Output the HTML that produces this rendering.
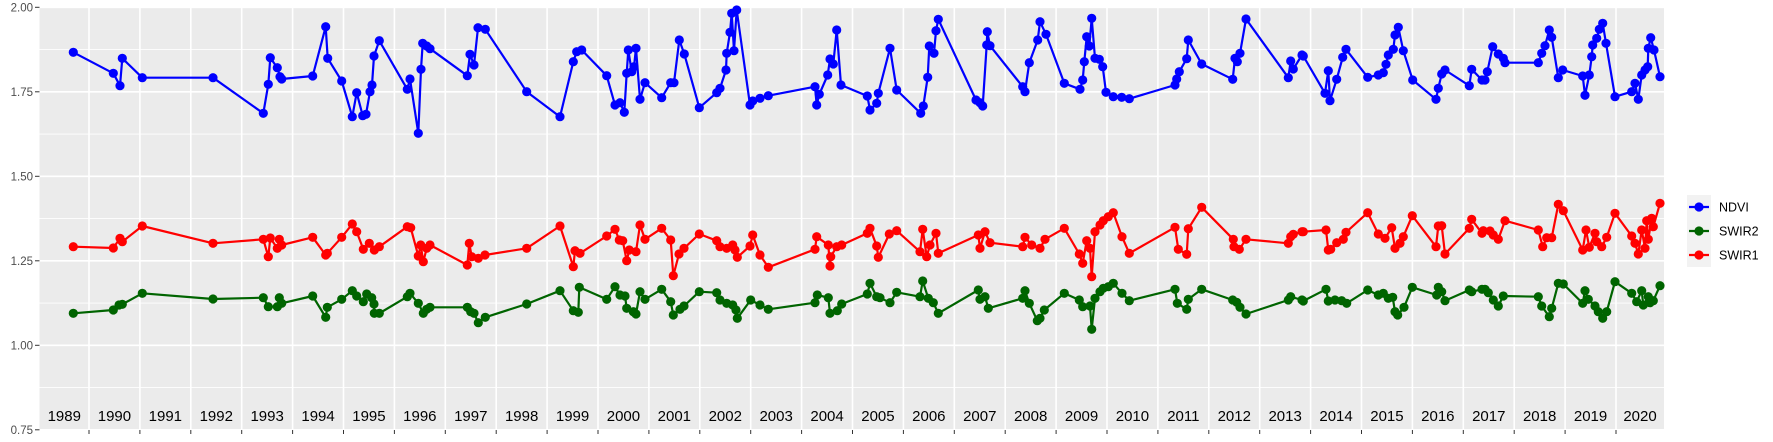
<!DOCTYPE html>
<html><head><meta charset="utf-8">
<style>
html,body{margin:0;padding:0;background:#fff;}
svg{display:block;font-family:"Liberation Sans",sans-serif;}
</style></head>
<body>
<svg id="c" width="1773" height="442" viewBox="0 0 1773 442" xmlns="http://www.w3.org/2000/svg"></svg>
<script>
const NS="http://www.w3.org/2000/svg";
const svg=document.getElementById('c');
function el(t,a,txt){const e=document.createElementNS(NS,t);for(const k in a)e.setAttribute(k,a[k]);if(txt!==undefined)e.textContent=txt;svg.appendChild(e);return e;}
const L=39.5,R=1664,T=7.3,B=430;
const yv=v=>T+(2-v)*338;
el('rect',{x:L,y:T,width:R-L,height:B-T,fill:'#ebebeb'});
// minor horizontal
[1.875,1.625,1.375,1.125,0.875].forEach(v=>el('line',{x1:L,x2:R,y1:yv(v),y2:yv(v),stroke:'#fff','stroke-width':0.8}));
[2,1.75,1.5,1.25,1,0.75].forEach(v=>{el('line',{x1:L,x2:R,y1:yv(v),y2:yv(v),stroke:'#fff','stroke-width':1.6});
 el('line',{x1:35,x2:L,y1:yv(v),y2:yv(v),stroke:'#333','stroke-width':1});
 el('text',{x:33,y:yv(v)+4,'text-anchor':'end','font-size':'11.5',fill:'#4d4d4d'},v.toFixed(2));});
const gx=Y=>89+(Y-1990)*50.9;
for(let Y=1990;Y<=2020;Y++){const x=gx(Y);el('line',{x1:x,x2:x,y1:T,y2:B,stroke:'#fff','stroke-width':1.6});el('line',{x1:x,x2:x,y1:B,y2:B+4,stroke:'#333','stroke-width':1});}
for(let Y=1989;Y<=2020;Y++){const a=Y==1989?L:gx(Y),b=Y==2020?R:gx(Y+1);el('text',{x:(a+b)/2,y:421,'text-anchor':'middle','font-size':'15',fill:'#000'},String(Y));}
const off={3:39,4:220,5:400,6:580,7:760,8:940,9:1120,10:1300,11:1480};
const D={
blue:{3:[[103,157],[223,220],[243,257],[250,175],[310,233],[522,233]],
4:[[130,340],[145,253],[151,173],[172,203],[180,230],[185,237],[278,228],[317,80],[323,175],[365,243],[397,350],[410,278],[428,347],[438,343],[450,275],[456,255],[462,168],[478,122]],
5:[[22,268],[30,237],[55,400],[63,208],[68,130],[80,138],[90,146],[202,227],[210,163],[222,195],[234,83],[256,88],[380,275],[480,350],[520,185],[530,155]],
6:[[5,150],[80,227],[105,315],[120,308],[133,337],[140,220],[145,150],[155,215],[162,200],[168,145],[180,298],[195,248],[245,293],[272,248],[282,248],[298,120],[313,162],[358,323],[410,278],[420,265],[438,210],[440,160],[450,97],[455,40],[462,152],[470,30],[510,315],[518,303],[540,295]],
7:[[25,287],[165,260],[170,315],[178,283],[203,225],[210,177],[220,192],[230,90],[243,255],[322,288],[330,330],[350,310],[355,280],[390,145],[410,270],[482,340],[490,318],[503,232],[508,138],[522,160],[528,92],[535,58]],
8:[[108,300],[120,308],[128,318],[140,135],[142,95],[150,137],[248,260],[255,275],[268,188],[293,120],[300,65],[318,103],[373,250],[420,268],[428,240],[433,185],[440,110],[448,138],[455,55],[465,175],[478,178],[488,200],[498,277],[520,290],[545,292]],
9:[[28,296],[165,255],[170,237],[178,215],[200,176],[205,120],[245,192],[338,238],[345,175],[352,185],[360,160],[378,57],[505,233],[512,183],[520,207],[546,165]],
10:[[10,168],[75,280],[85,212],[90,302],[110,238],[128,172],[138,148],[203,232],[235,225],[250,218],[258,193],[265,165],[280,148],[285,105],[295,82],[310,152],[338,240],[408,298],[415,265],[425,222],[435,210],[508,257],[515,208],[546,240]],
11:[[15,240],[22,215],[38,140],[55,162],[70,175],[75,188],[175,188],[185,160],[195,137],[208,90],[215,112],[235,233],[248,210],[308,228],[315,286],[328,225],[335,170],[338,135],[350,115],[358,88],[368,70],[378,130],[405,290],[455,275],[465,250],[475,298],[485,225],[495,210],[503,200],[505,145],[512,113],[522,150],[540,230]]},
red:{3:[[103,740],[223,744],[243,715],[250,725],[310,678],[522,730]],
4:[[130,718],[145,770],[151,714],[172,745],[178,718],[185,735],[278,712],[317,765],[322,760],[365,712],[397,672],[410,695],[430,748],[448,730],[463,750],[478,740]],
5:[[22,680],[32,683],[55,768],[62,735],[70,785],[80,745],[90,735],[202,795],[208,730],[215,770],[235,775],[255,765],[380,745],[480,678],[520,800],[525,752],[540,760]],
6:[[80,708],[105,688],[118,720],[128,722],[140,782],[148,750],[168,755],[180,675],[195,718],[245,685],[272,720],[280,827],[297,762],[312,745],[358,702],[410,722],[420,740],[440,745],[458,735],[465,750],[472,772],[510,738],[518,705],[540,765]],
7:[[25,802],[165,748],[170,710],[205,735],[210,798],[212,770],[230,740],[245,735],[322,700],[330,685],[350,738],[355,772],[388,702],[410,692],[480,755],[488,688],[500,770],[510,735],[528,700],[535,760]],
8:[[115,705],[120,745],[135,695],[150,728],[248,740],[255,712],[275,735],[300,745],[315,718],[373,685],[418,762],[428,790],[440,722],[450,745],[455,830],[465,695],[480,675],[490,662],[505,650],[520,638],[546,710]],
9:[[28,760],[165,682],[175,748],[200,763],[205,686],[245,622],[340,718],[342,740],[358,748],[378,718],[505,730],[512,710],[520,703],[546,695]],
10:[[10,695],[78,690],[85,750],[92,748],[110,728],[130,718],[138,697],[203,638],[235,702],[255,715],[275,683],[285,745],[300,730],[310,710],[337,647],[408,740],[415,678],[425,677],[435,762],[508,685],[515,658],[546,700]],
11:[[10,692],[30,693],[40,705],[55,718],[75,662],[175,690],[188,740],[200,713],[215,713],[235,613],[250,632],[308,750],[318,690],[328,742],[345,700],[350,725],[365,740],[380,712],[405,640],[455,708],[465,730],[475,762],[485,690],[495,745],[500,662],[505,718],[515,655],[520,680],[540,610]]},
green:{3:[[103,940],[223,930],[240,915],[250,913],[310,880],[522,897]],
4:[[130,893],[145,920],[172,920],[178,893],[185,910],[278,888],[317,952],[322,922],[365,898],[397,872],[410,888],[430,905],[440,882],[455,893],[462,912],[463,940],[478,940]],
5:[[22,890],[30,880],[55,910],[70,940],[80,928],[90,922],[202,922],[212,935],[222,940],[235,968],[256,952],[380,912],[480,872],[520,932],[535,937],[538,862]],
6:[[80,898],[105,860],[120,885],[135,888],[140,925],[160,935],[168,942],[180,875],[195,898],[245,868],[272,905],[280,945],[300,928],[312,918],[358,875],[410,878],[420,900],[440,910],[458,915],[468,930],[472,955],[512,900],[540,915]],
7:[[25,928],[165,908],[172,885],[205,893],[210,940],[232,932],[245,912],[322,882],[330,850],[350,890],[360,893],[390,908],[410,877],[480,890],[488,843],[505,895],[520,908],[535,940]],
8:[[115,870],[120,898],[135,890],[145,925],[248,895],[255,872],[268,910],[292,962],[300,955],[313,930],[373,880],[418,900],[428,920],[450,918],[455,988],[465,895],[480,875],[490,865],[505,860],[520,850],[546,880]],
9:[[28,902],[165,868],[172,910],[200,928],[205,898],[245,868],[338,900],[350,907],[360,922],[378,942],[505,900],[512,890],[546,900]],
10:[[10,903],[78,868],[85,903],[105,900],[125,902],[140,910],[203,870],[235,885],[250,880],[265,895],[278,892],[285,935],[293,945],[312,922],[337,862],[410,885],[415,862],[425,875],[435,902],[508,870],[515,875],[546,868]],
11:[[15,868],[25,878],[40,900],[55,918],[70,888],[175,890],[185,918],[208,950],[215,925],[235,850],[250,852],[308,910],[315,872],[325,898],[345,918],[355,935],[368,955],[380,935],[405,845],[455,880],[470,905],[485,872],[490,915],[505,890],[510,908],[520,902],[540,857]]}};
const col={blue:'#0000ff',red:'#ff0000',green:'#006400'};
['blue','green','red'].forEach(s=>{
 let pts=[];for(const k in D[s])D[s][k].forEach(p=>pts.push([p[0]/3+off[k],p[1]/3]));
 pts.sort((a,b)=>a[0]-b[0]);
 el('polyline',{points:pts.map(p=>p[0].toFixed(1)+','+p[1].toFixed(1)).join(' '),fill:'none',stroke:col[s],'stroke-width':2.2,'stroke-linejoin':'round'});
 pts.forEach(p=>el('circle',{cx:p[0].toFixed(1),cy:p[1].toFixed(1),r:4.6,fill:col[s]}));
});
// legend
el('rect',{x:1687,y:195,width:24,height:72,fill:'#f2f2f2'});
[['NDVI','blue',207],['SWIR2','green',231],['SWIR1','red',255]].forEach(([t,c,y])=>{
 el('line',{x1:1689,x2:1709,y1:y,y2:y,stroke:col[c],'stroke-width':2.2});
 el('circle',{cx:1699,cy:y,r:4.6,fill:col[c]});
 el('text',{x:1719,y:y+4.5,'font-size':'12.5',fill:'#000'},t);
});
</script>
</body></html>
